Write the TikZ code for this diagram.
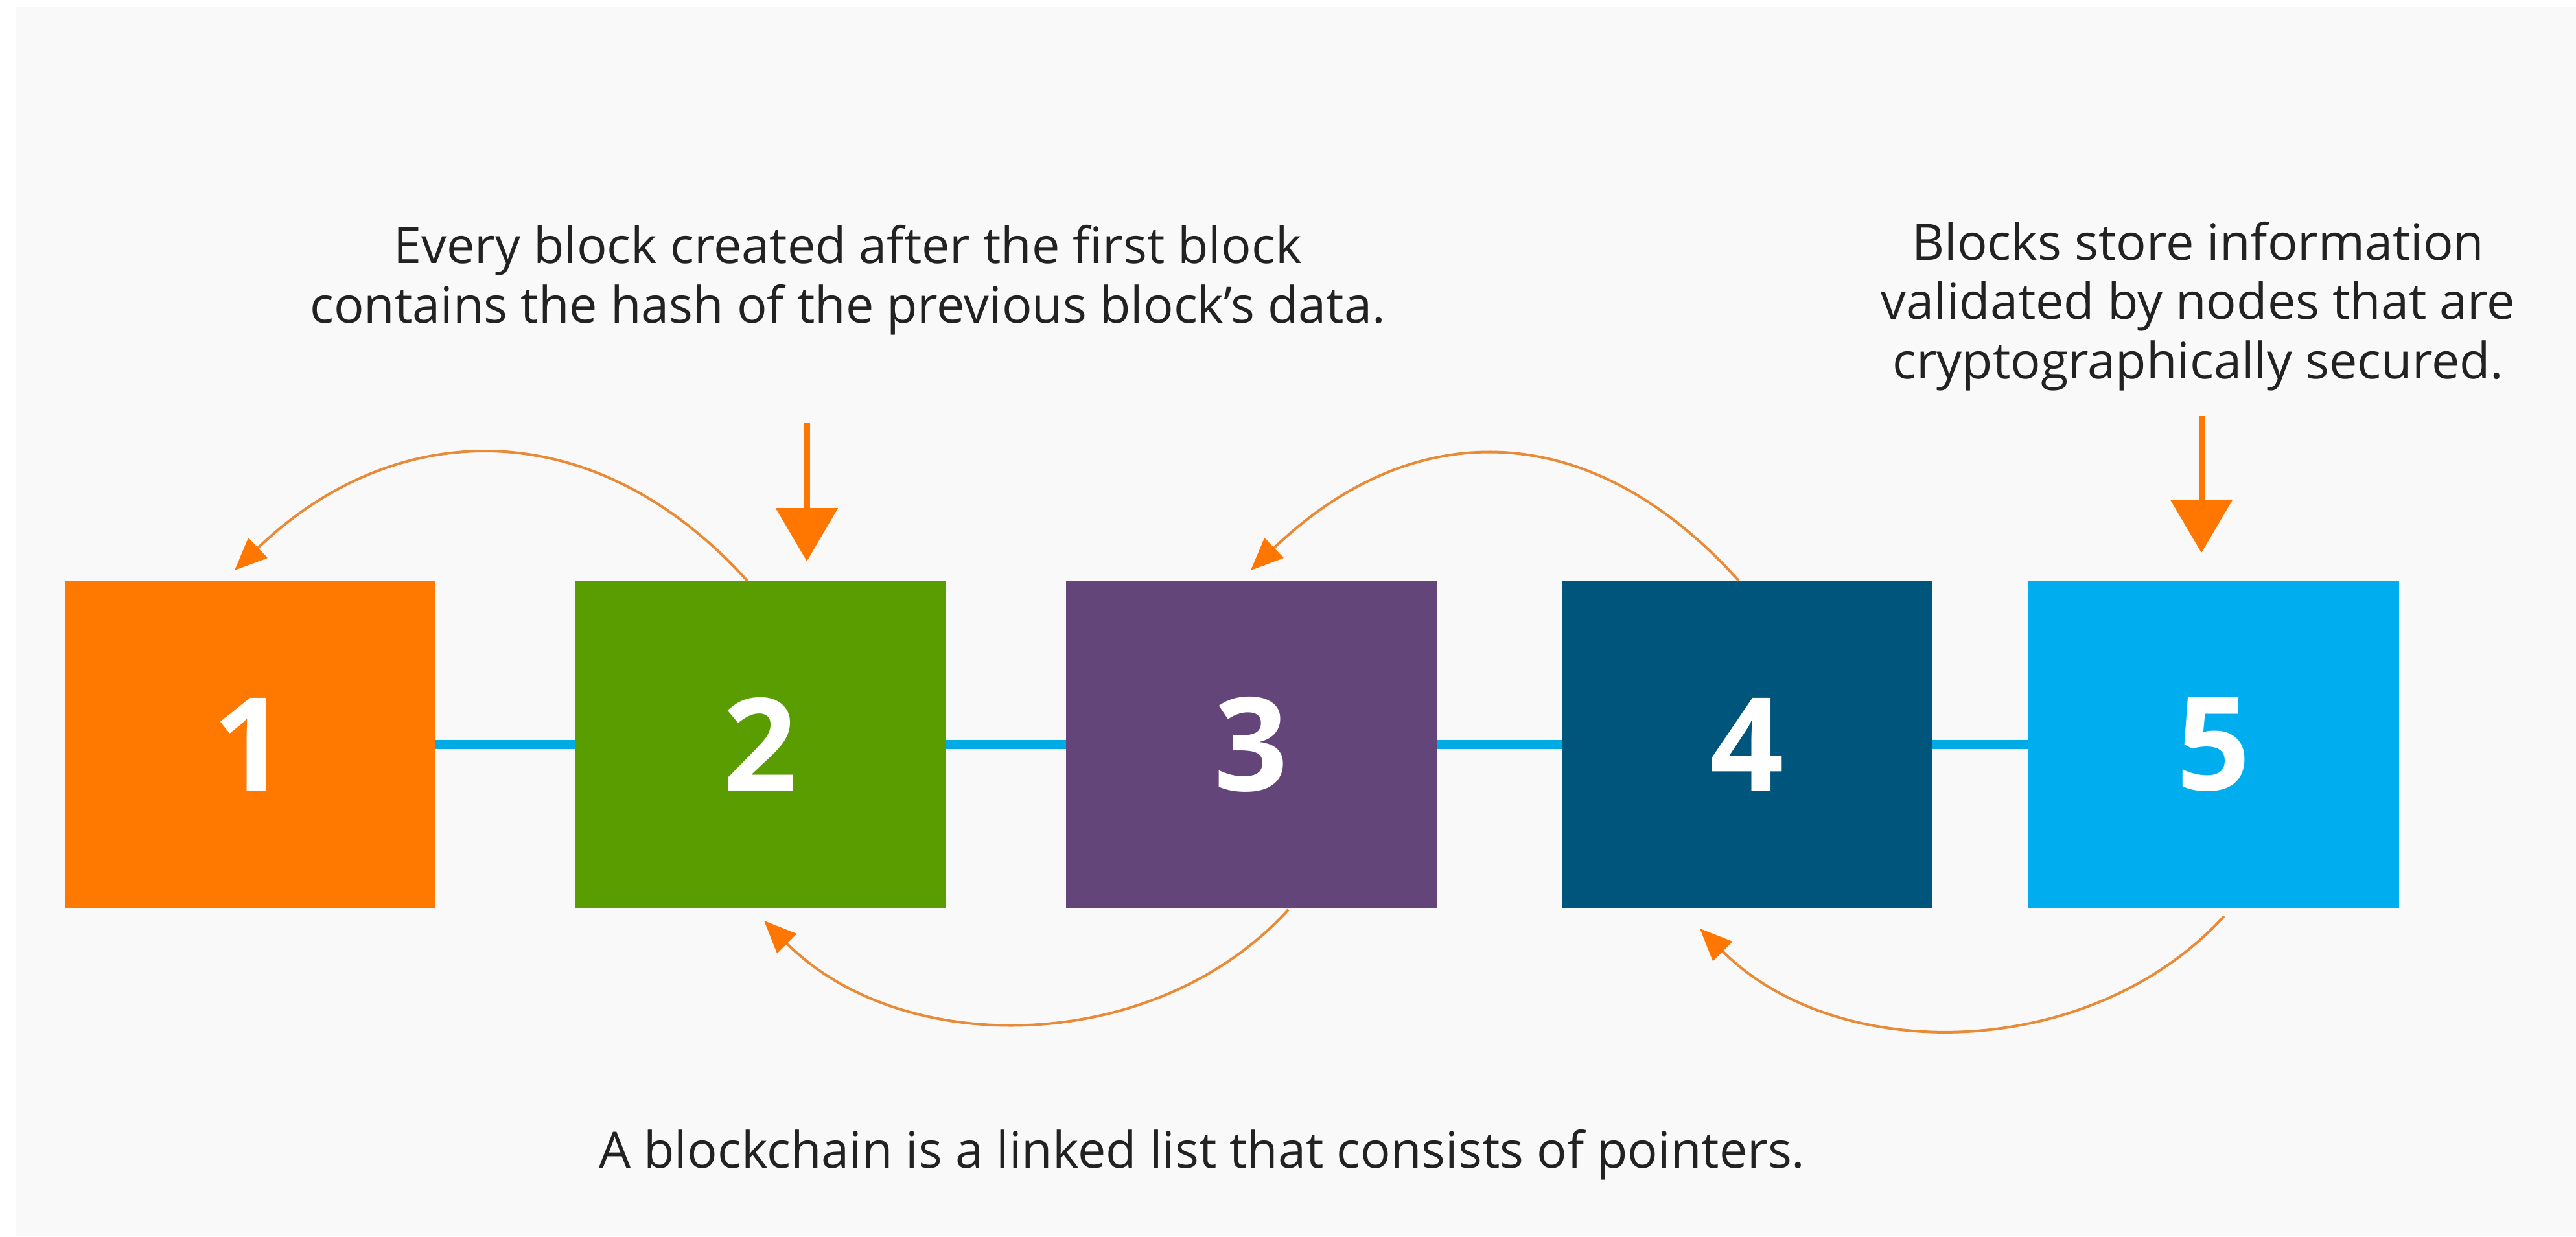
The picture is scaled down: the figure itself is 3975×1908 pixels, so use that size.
\documentclass[tikz,border=0pt]{standalone}
\usepackage{fontspec}
\setmainfont{Open Sans}
\usetikzlibrary{arrows.meta,calc}
\definecolor{bgc}{HTML}{F9F9F9}
\definecolor{cA}{HTML}{FF7800}
\definecolor{cB}{HTML}{599D00}
\definecolor{cC}{HTML}{64457A}
\definecolor{cD}{HTML}{00557D}
\definecolor{cE}{HTML}{00ADEF}
\definecolor{linkc}{HTML}{00AAE4}
\definecolor{curvec}{HTML}{E98A36}
\definecolor{headc}{HTML}{FF7700}
\definecolor{txtc}{HTML}{222222}
\begin{document}
\begin{tikzpicture}[x=0.01cm,y=-0.01cm,
  blk/.style={minimum width=5.71cm, minimum height=5.04cm, inner sep=0pt, text=white,
    font=\fontsize{57pt}{60pt}\selectfont\bfseries},
  link/.style={draw=linkc, line width=1.45mm},
  curve/.style={draw=curvec, line width=0.4mm,
    -{Triangle[length=5mm, width=4.2mm, color=headc, fill=headc]}},
  bigarrow/.style={draw=headc, line width=0.9mm,
    -{Triangle[length=8.2mm, width=9.4mm, color=headc, fill=headc]}},
  lbl/.style={text=txtc, align=center, inner sep=0pt,
    font=\fontsize{22pt}{25.9pt}\selectfont}]
\useasboundingbox (0,0) rectangle (3975,1908);
\fill[bgc] (24,11) rectangle (3975,1908);

\node[blk, fill=cA] (b1) at (386,1149) {1};
\node[blk, fill=cB] (b2) at (1173,1149) {2};
\node[blk, fill=cC] (b3) at (1931,1149) {3};
\node[blk, fill=cD] (b4) at (2696,1149) {4};
\node[blk, fill=cE] (b5) at (3416,1149) {5};

\draw[link] (b1.east) -- (b2.west);
\draw[link] (b2.east) -- (b3.west);
\draw[link] (b3.east) -- (b4.west);
\draw[link] (b4.east) -- (b5.west);

\draw[curve] ($(b2.north)+(-20,0)$) .. controls +(-235,-260) and +(250,-240) .. ($(b1.north)+(-24,-16)$);
\draw[curve] ($(b4.north)+(-13,0)$) .. controls +(-232,-258) and +(248,-238) .. ($(b3.north)+(-1,-16)$);
\draw[curve] ($(b3.south)+(57,2)$) .. controls +(-205,225) and +(215,215) .. ($(b2.south)+(6,19)$);
\draw[curve] ($(b5.south)+(16,12)$) .. controls +(-205,224) and +(214,214) .. ($(b4.south)+(-73,31)$);

\node[lbl, anchor=base] (t1) at (1308,498) {Every block created after the first block\\contains the hash of the previous block’s data.};
\node[lbl, anchor=base] (t2) at (3392,584) {Blocks store information\\validated by nodes that are\\cryptographically secured.};
\node[lbl, anchor=base] (t3) at (1855,1802) {A blockchain is a linked list that consists of pointers.};

\coordinate (s2) at (1245,653);
\coordinate (s5) at (3397,642);
\draw[bigarrow] (s2) -- ($(b2.north)+(72,-30)$);
\draw[bigarrow] (s5) -- ($(b5.north)+(-19,-43)$);
\end{tikzpicture}
\end{document}
